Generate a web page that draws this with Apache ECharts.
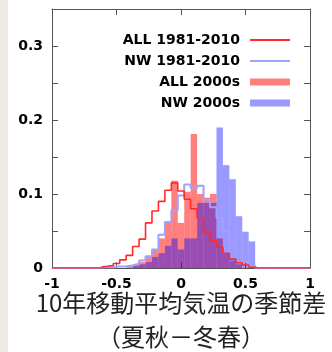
<!DOCTYPE html>
<html><head><meta charset="utf-8">
<script src="https://cdn.jsdelivr.net/npm/echarts@6/dist/echarts.min.js"></script>
<style>
html,body{margin:0;padding:0;background:#fff;}
#strip{position:absolute;left:0;top:0;width:8px;height:352px;background:#eeebe3;}
#chart{position:absolute;left:0;top:0;width:332px;height:352px;}
</style></head><body>
<div id="strip"></div><div id="chart"></div>
<script>
// ---- tick labels ----
const xTicks = [-1, -0.5, 0, 0.5, 1];
const xTickLabels = ['-1', '-0.5', '0', '0.5', '1'];
const yTicks = [0, 0.1, 0.2, 0.3];
const yTickLabels = ['0', '0.1', '0.2', '0.3'];
const xTitle = '10年移動平均気温の季節差\n（夏秋－冬春）';
const seriesNames = ['ALL 1981-2010', 'NW 1981-2010', 'ALL 2000s', 'NW 2000s'];

// ---- 1981-2010 step lines (bin centres) ----
const lineX = [-1, -0.65, -0.6, -0.55, -0.5, -0.45, -0.4, -0.35, -0.3, -0.25, -0.2, -0.15, -0.1, -0.05, 0, 0.05, 0.1, 0.15, 0.2, 0.25, 0.3, 0.35, 0.4, 0.45, 0.5, 0.55, 0.6, 1];
const all1981 = [0, 0, 0.002, 0.003, 0.006, 0.011, 0.017, 0.029, 0.039, 0.061, 0.077, 0.09, 0.105, 0.115, 0.104, 0.093, 0.08, 0.068, 0.048, 0.037, 0.028, 0.02, 0.012, 0.007, 0.004, 0.001, 0, 0];
const nw1981  = [0, 0, 0.001, 0.001, 0.002, 0.002, 0.003, 0.005, 0.01, 0.016, 0.025, 0.045, 0.062, 0.078, 0.098, 0.113, 0.108, 0.111, 0.092, 0.082, 0.068, 0.05, 0.034, 0.02, 0.008, 0.003, 0, 0];

// ---- 2000s bars (bin centres) ----
const all2000X = [-0.4, -0.35, -0.3, -0.25, -0.2, -0.15, -0.1, -0.05, 0, 0.05, 0.1, 0.15, 0.2, 0.25, 0.3, 0.35, 0.4, 0.45];
const all2000  = [0.003, 0.005, 0.008, 0.015, 0.025, 0.04, 0.063, 0.118, 0.061, 0.103, 0.181, 0.1, 0.095, 0.1, 0.04, 0.02, 0.01, 0.005];
const nw2000X = [-0.35, -0.3, -0.25, -0.2, -0.15, -0.1, -0.05, 0, 0.05, 0.1, 0.15, 0.2, 0.25, 0.3, 0.35, 0.4, 0.45, 0.5, 0.55];
const nw2000  = [0.003, 0.005, 0.008, 0.015, 0.02, 0.03, 0.04, 0.025, 0.04, 0.04, 0.088, 0.088, 0.088, 0.19, 0.139, 0.12, 0.07, 0.049, 0.036];
const BIN = 0.05;

const zip = (xs, ys) => xs.map((x, i) => [x, ys[i]]);
const lab = (ticks, labels) => v => { const i = ticks.findIndex(t => Math.abs(t - v) < 1e-9); return i >= 0 ? labels[i] : ''; };

function barRender(params, api) {
  const c = api.value(0), h = api.value(1);
  const p0 = api.coord([c - BIN / 2, h]);
  const p1 = api.coord([c + BIN / 2, 0]);
  return { type: 'rect', shape: { x: p0[0], y: p0[1], width: p1[0] - p0[0], height: p1[1] - p0[1] }, style: api.style() };
}

const frame = '#555';
const redLine = '#ff2a2a', blueLine = '#a0a0ff';
const redFill = 'rgba(255,0,0,0.5)', blueFill = 'rgba(0,0,255,0.4)';
const lineIcon = 'path://M0,0H40V2H0Z';
const tickFont = { fontFamily: 'DejaVu Sans', fontWeight: 'bold', fontSize: 14, color: '#000' };
const baseX = { type: 'value', min: -1, max: 1, interval: 0.5, splitLine: { show: false },
  axisLine: { show: true, onZero: false, lineStyle: { color: frame, width: 1 } },
  axisTick: { show: true, inside: true, length: 6, lineStyle: { color: frame } } };
const baseY = { type: 'value', min: 0, max: 0.35, interval: 0.05, splitLine: { show: false },
  axisLine: { show: true, onZero: false, lineStyle: { color: frame, width: 1 } },
  axisTick: { show: true, inside: true, length: 6, lineStyle: { color: frame } } };

const chart = echarts.init(document.getElementById('chart'), null, { renderer: 'canvas' });
chart.setOption({
  backgroundColor: 'transparent',
  animation: false,
  grid: { left: 52, right: 22, top: 9, bottom: 84, show: true, backgroundColor: '#fff', borderWidth: 0,
    containLabel: false, outerBoundsMode: 'none' },
  legend: {
    orient: 'vertical', right: 42, top: 32, align: 'right', padding: 0,
    itemWidth: 40, itemHeight: 7, itemGap: 5, selectedMode: false,
    textStyle: Object.assign({ lineHeight: 16, padding: [0, 5, 0, 0] }, tickFont),
    data: [
      { name: seriesNames[0], icon: lineIcon, itemStyle: { color: redLine } },
      { name: seriesNames[1], icon: lineIcon, itemStyle: { color: blueLine } },
      { name: seriesNames[2], icon: 'rect' },
      { name: seriesNames[3], icon: 'rect' }
    ]
  },
  xAxis: [
    Object.assign({}, baseX, { position: 'bottom',
      axisLabel: Object.assign({ formatter: lab(xTicks, xTickLabels), margin: 9 }, tickFont),
      name: xTitle, nameLocation: 'middle', nameGap: 18, nameMoveOverlap: false,
      nameTextStyle: { fontFamily: 'Noto Sans CJK JP', fontSize: 24, lineHeight: 34, color: '#222',
        verticalAlign: 'top' } }),
    Object.assign({}, baseX, { position: 'top', axisLabel: { show: false } })
  ],
  yAxis: [
    Object.assign({}, baseY, { position: 'left',
      axisLabel: Object.assign({ formatter: lab(yTicks, yTickLabels), margin: 9 }, tickFont) }),
    Object.assign({}, baseY, { position: 'right', axisLabel: { show: false } })
  ],
  series: [
    { name: seriesNames[2], type: 'custom', renderItem: barRender, encode: { x: 0, y: 1 },
      itemStyle: { color: redFill }, data: zip(all2000X, all2000), z: 2 },
    { name: seriesNames[3], type: 'custom', renderItem: barRender, encode: { x: 0, y: 1 },
      itemStyle: { color: blueFill }, data: zip(nw2000X, nw2000), z: 3 },
    { name: seriesNames[1], type: 'line', step: 'middle', symbol: 'none', showSymbol: false,
      itemStyle: { color: blueLine }, lineStyle: { color: blueLine, width: 2 }, data: zip(lineX, nw1981), z: 4 },
    { name: seriesNames[0], type: 'line', step: 'middle', symbol: 'none', showSymbol: false,
      itemStyle: { color: redLine }, lineStyle: { color: redLine, width: 1.6 }, data: zip(lineX, all1981), z: 5 }
  ]
});
</script>
</body></html>
